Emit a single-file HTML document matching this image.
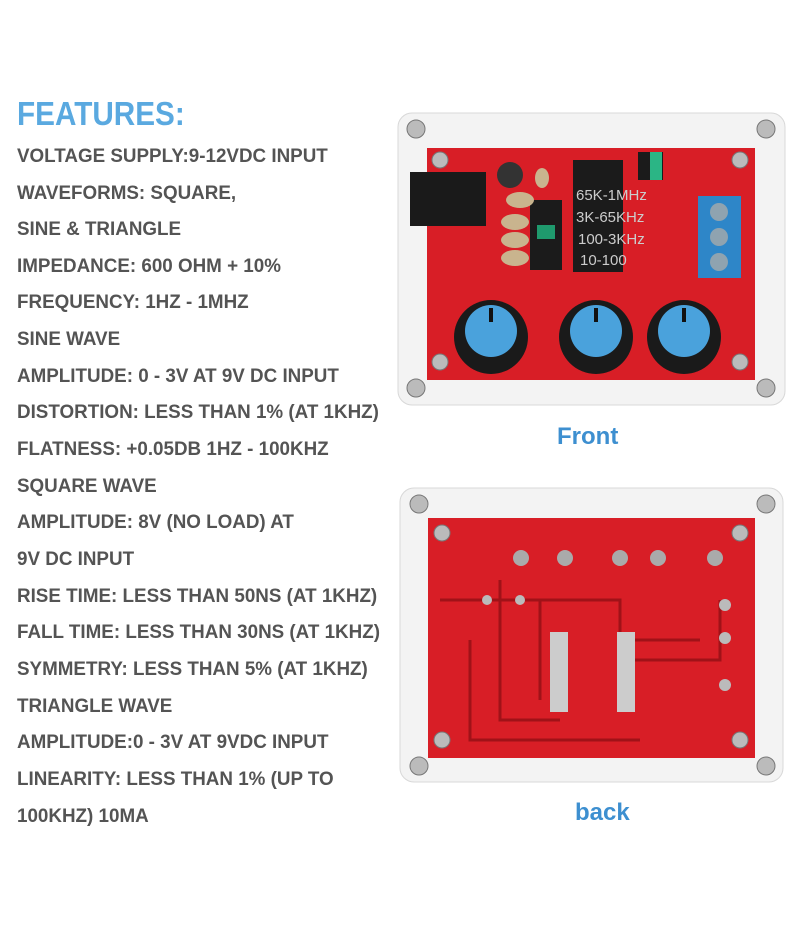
<!DOCTYPE html>
<html><head><meta charset="utf-8"><style>
html,body{margin:0;padding:0;background:#fff;width:800px;height:930px;overflow:hidden;position:relative;font-family:"Liberation Sans",sans-serif}
.h{position:absolute;left:17px;top:95px;font-size:33px;font-weight:bold;color:#5aa9e0;transform:scaleX(0.9);transform-origin:left}
.l{position:absolute;left:17px;font-size:19px;font-weight:bold;color:#545454;white-space:nowrap;transform:scaleX(0.99);transform-origin:left}
.cap{position:absolute;font-size:24px;font-weight:bold;color:#3d8fd0}
svg{position:absolute;left:0;top:0}
</style></head><body>
<div class="h">FEATURES:</div>
<div class="l" style="top:146px">VOLTAGE SUPPLY:9-12VDC INPUT</div>
<div class="l" style="top:183px">WAVEFORMS: SQUARE,</div>
<div class="l" style="top:219px">SINE &amp; TRIANGLE</div>
<div class="l" style="top:256px">IMPEDANCE: 600 OHM + 10%</div>
<div class="l" style="top:292px">FREQUENCY: 1HZ - 1MHZ</div>
<div class="l" style="top:329px">SINE WAVE</div>
<div class="l" style="top:366px">AMPLITUDE: 0 - 3V AT 9V DC INPUT</div>
<div class="l" style="top:402px">DISTORTION: LESS THAN 1% (AT 1KHZ)</div>
<div class="l" style="top:439px">FLATNESS: +0.05DB 1HZ - 100KHZ</div>
<div class="l" style="top:476px">SQUARE WAVE</div>
<div class="l" style="top:512px">AMPLITUDE: 8V (NO LOAD) AT</div>
<div class="l" style="top:549px">9V DC INPUT</div>
<div class="l" style="top:586px">RISE TIME: LESS THAN 50NS (AT 1KHZ)</div>
<div class="l" style="top:622px">FALL TIME: LESS THAN 30NS (AT 1KHZ)</div>
<div class="l" style="top:659px">SYMMETRY: LESS THAN 5% (AT 1KHZ)</div>
<div class="l" style="top:696px">TRIANGLE WAVE</div>
<div class="l" style="top:732px">AMPLITUDE:0 - 3V AT 9VDC INPUT</div>
<div class="l" style="top:769px">LINEARITY: LESS THAN 1% (UP TO</div>
<div class="l" style="top:806px">100KHZ) 10MA</div>
<div class="cap" style="left:557px;top:423px">Front</div>
<div class="cap" style="left:575px;top:799px">back</div>
<svg width="800" height="930">
<rect x="398" y="113" width="387" height="292" rx="14" fill="#f3f3f3" stroke="#d8d8d8"/>
<rect x="427" y="148" width="328" height="232" fill="#d81e26"/>
<rect x="410" y="172" width="76" height="54" fill="#1a1a1a"/>
<circle cx="510" cy="175" r="13" fill="#333"/>
<rect x="573" y="160" width="50" height="112" fill="#1b1b1b"/>
<text x="576" y="200" font-size="15" fill="#ccc" font-family="Liberation Sans">65K-1MHz</text>
<text x="576" y="222" font-size="15" fill="#ccc" font-family="Liberation Sans">3K-65KHz</text>
<text x="578" y="244" font-size="15" fill="#ccc" font-family="Liberation Sans">100-3KHz</text>
<text x="580" y="265" font-size="15" fill="#ccc" font-family="Liberation Sans">10-100</text>
<rect x="530" y="200" width="32" height="70" fill="#1b1b1b"/>
<rect x="537" y="225" width="18" height="14" fill="#1f9a6d"/>
<rect x="638" y="152" width="25" height="28" fill="#1b1b1b"/>
<rect x="650" y="152" width="12" height="28" fill="#2bb585"/>
<rect x="698" y="196" width="43" height="82" fill="#2e86c8"/>
<circle cx="719" cy="212" r="9" fill="#8fa3b0"/><circle cx="719" cy="237" r="9" fill="#8fa3b0"/><circle cx="719" cy="262" r="9" fill="#8fa3b0"/>
<g fill="#c9b48e"><ellipse cx="520" cy="200" rx="14" ry="8"/><ellipse cx="515" cy="222" rx="14" ry="8"/><ellipse cx="515" cy="240" rx="14" ry="8"/><ellipse cx="515" cy="258" rx="14" ry="8"/><ellipse cx="542" cy="178" rx="7" ry="10"/></g>
<g fill="#1a1a1a"><circle cx="491" cy="337" r="37"/><circle cx="596" cy="337" r="37"/><circle cx="684" cy="337" r="37"/></g>
<g fill="#4aa2dc"><circle cx="491" cy="331" r="26"/><circle cx="596" cy="331" r="26"/><circle cx="684" cy="331" r="26"/></g>
<g fill="#111"><rect x="489" y="308" width="4" height="14"/><rect x="594" y="308" width="4" height="14"/><rect x="682" y="308" width="4" height="14"/></g>
<g fill="#bbb" stroke="#777"><circle cx="416" cy="129" r="9"/><circle cx="766" cy="129" r="9"/><circle cx="416" cy="388" r="9"/><circle cx="766" cy="388" r="9"/><circle cx="440" cy="160" r="8"/><circle cx="740" cy="160" r="8"/><circle cx="440" cy="362" r="8"/><circle cx="740" cy="362" r="8"/></g>
<rect x="400" y="488" width="383" height="294" rx="14" fill="#f3f3f3" stroke="#d8d8d8"/>
<rect x="428" y="518" width="327" height="240" fill="#d81e26"/>
<g fill="none" stroke="#a01218" stroke-width="3"><path d="M440 600 H620 V640 H700"/><path d="M500 580 V720 H560"/><path d="M540 600 V700"/><path d="M620 660 H720 V600"/><path d="M470 640 V740 H640"/></g>
<g fill="#aaa"><circle cx="521" cy="558" r="8"/><circle cx="565" cy="558" r="8"/><circle cx="620" cy="558" r="8"/><circle cx="658" cy="558" r="8"/><circle cx="715" cy="558" r="8"/></g>
<g fill="#bbb"><circle cx="725" cy="605" r="6"/><circle cx="725" cy="638" r="6"/><circle cx="725" cy="685" r="6"/><circle cx="487" cy="600" r="5"/><circle cx="520" cy="600" r="5"/></g>
<g fill="#ccc"><rect x="550" y="632" width="18" height="80"/><rect x="617" y="632" width="18" height="80"/></g>
<g fill="#bbb" stroke="#777"><circle cx="419" cy="504" r="9"/><circle cx="766" cy="504" r="9"/><circle cx="419" cy="766" r="9"/><circle cx="766" cy="766" r="9"/><circle cx="442" cy="533" r="8"/><circle cx="740" cy="533" r="8"/><circle cx="442" cy="740" r="8"/><circle cx="740" cy="740" r="8"/></g>
</svg>
</body></html>
